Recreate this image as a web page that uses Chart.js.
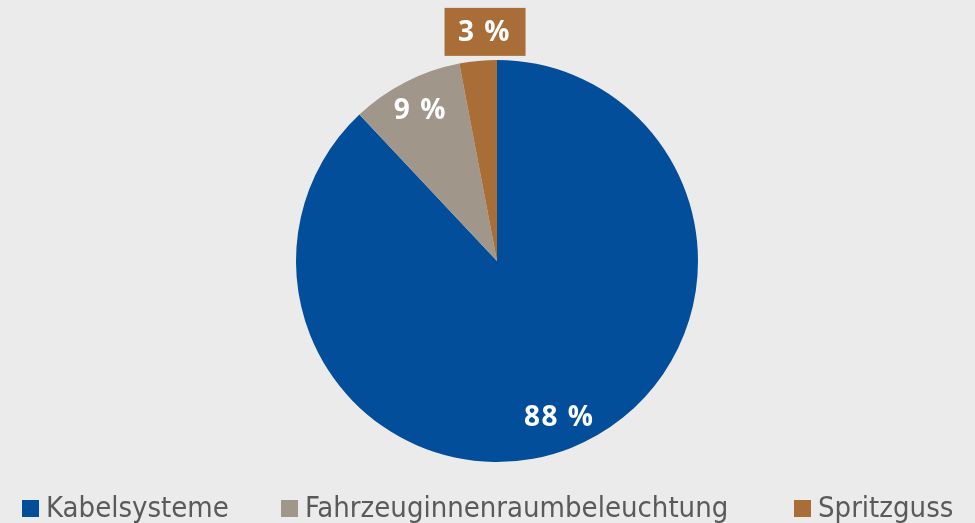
<!DOCTYPE html>
<html>
<head>
<meta charset="utf-8">
<script src="https://cdn.jsdelivr.net/npm/chart.js@4"></script>
<style>
  html, body { margin: 0; padding: 0; background: #ebebeb; }
  #box { width: 975px; height: 523px; }
</style>
</head>
<body>
<div id="box"><canvas id="umsatz"></canvas></div>
<script>
const labels = ["Kabelsysteme", "Fahrzeuginnenraumbeleuchtung", "Spritzguss"];
const anteile = [88, 9, 3];
const farben = ["#034e9a", "#a09689", "#a96e38"];

// Prozentwerte in die Segmente schreiben, der kleinste kommt in einen Kasten darüber
const prozentLabels = {
  id: 'prozentLabels',
  afterDatasetsDraw(chart) {
    const { ctx } = chart;
    const meta = chart.getDatasetMeta(0);
    ctx.save();
    ctx.font = 'bold 28px "Open Sans"';
    ctx.letterSpacing = '1.5px';
    ctx.textAlign = 'center';
    ctx.textBaseline = 'middle';
    meta.data.forEach((arc, i) => {
      const mid = (arc.startAngle + arc.endAngle) / 2;
      const text = anteile[i] + ' %';
      if (i === 2) {
        const d = arc.outerRadius * 1.135;
        const x = arc.x + Math.cos(mid) * d + 9;
        const y = arc.y + Math.sin(mid) * d - 2;
        ctx.fillStyle = farben[i];
        ctx.fillRect(x - 40, y - 24, 81, 48);
        ctx.fillStyle = '#ffffff';
        ctx.fillText(text, x, y + 1);
      } else {
        const d = arc.outerRadius * 0.84;
        ctx.fillStyle = '#ffffff';
        ctx.fillText(text, arc.x + Math.cos(mid) * d, arc.y + Math.sin(mid) * d);
      }
    });
    ctx.restore();
  }
};

// Legende unten, Einträge weit auseinander über die ganze Breite
const legendeUnten = {
  id: 'legendeUnten',
  afterDraw(chart, args, opts) {
    const { ctx } = chart;
    ctx.save();
    ctx.font = '29px "DejaVu Sans Condensed"';
    ctx.textBaseline = 'alphabetic';
    ctx.textAlign = 'left';
    labels.forEach((label, i) => {
      const x = opts.xs[i];
      ctx.fillStyle = farben[i];
      ctx.fillRect(x, 500, 17, 17);
      ctx.fillStyle = '#5a5a5a';
      ctx.fillText(label, x + 24, 517);
    });
    ctx.restore();
  }
};

new Chart(document.getElementById('umsatz'), {
  type: 'pie',
  data: {
    labels,
    datasets: [{
      data: anteile,
      backgroundColor: farben,
      borderWidth: 0
    }]
  },
  options: {
    responsive: true,
    maintainAspectRatio: false,
    animation: false,
    radius: 201,
    layout: { padding: { left: 19, top: 0, right: 0, bottom: 1 } },
    plugins: {
      tooltip: { enabled: false },
      legend: { display: false },
      legendeUnten: { xs: [22, 281, 794] }
    }
  },
  plugins: [prozentLabels, legendeUnten]
});
</script>
</body>
</html>
